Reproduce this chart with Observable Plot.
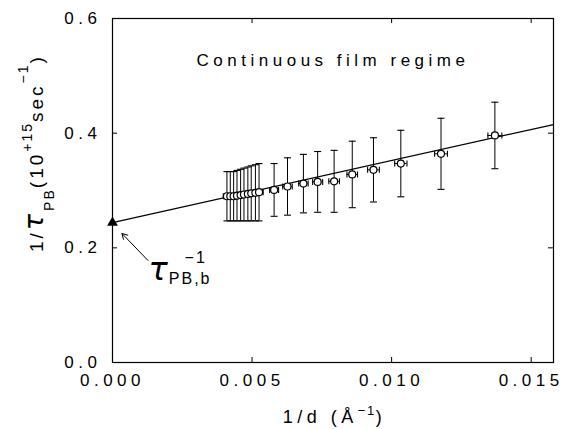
<!DOCTYPE html>
<html><head><meta charset="utf-8">
<script src="https://cdn.jsdelivr.net/npm/d3@7"></script>
<script src="https://cdn.jsdelivr.net/npm/@observablehq/plot@0.6"></script>
<style>body{margin:0;background:#fff}</style>
</head><body><div id="chart"></div>
<script>
// 1/d (Å^-1)
const invD = [0.00410, 0.00422, 0.00434, 0.00446, 0.00459, 0.00471, 0.00485, 0.00497, 0.00512, 0.00525,
              0.00579, 0.00627, 0.00684, 0.00735, 0.00794, 0.00859, 0.00935, 0.01033, 0.01177, 0.01370];
// 1/tau_PB (10^15 s^-1)
const invTau = [0.290, 0.290, 0.290, 0.291, 0.292, 0.293, 0.294, 0.295, 0.296, 0.297,
                0.301, 0.307, 0.312, 0.315, 0.316, 0.328, 0.336, 0.347, 0.364, 0.396];
const invTauErr = [0.043, 0.043, 0.043, 0.044, 0.045, 0.046, 0.047, 0.048, 0.049, 0.050,
                   0.046, 0.050, 0.051, 0.053, 0.054, 0.058, 0.056, 0.058, 0.062, 0.058];
const invDErr = [0.00013, 0.00013, 0.00013, 0.00013, 0.00013, 0.00014, 0.00014, 0.00014, 0.00014, 0.00015,
                 0.00016, 0.00017, 0.00017, 0.00018, 0.00019, 0.00019, 0.00021, 0.00022, 0.00023, 0.00025];
// linear fit
const fitX = [0, 0.0158];
const fitY = [0.244, 0.415];
// annotation arrow (tail -> head) and label anchor
const arrowFrom = [0.00127, 0.178];
const arrowTo = [0.00034, 0.225];
const labelAt = [0.00131, 0.143];
const xTicks = [0, 0.005, 0.010, 0.015];
const yTicks = [0, 0.2, 0.4, 0.6];
const titleText = "Continuous film regime";

const rows = invD.map((x, i) => ({x, y: invTau[i], ye: invTauErr[i], xe: invDErr[i]}));
const hCap = {draw(ctx, size) { const r = Math.sqrt(size / Math.PI); ctx.moveTo(-r, 0); ctx.lineTo(r, 0); }};
const vCap = {draw(ctx, size) { const r = Math.sqrt(size / Math.PI); ctx.moveTo(0, -r); ctx.lineTo(0, r); }};

const W = 567, H = 429, mL = 112, mR = 14, mT = 18, mB = 67;
const pw = W - mL - mR, ph = H - mT - mB, tick = 5;
const FONT = "'Liberation Sans', Arial, sans-serif";

const plot = Plot.plot({
  width: W, height: H, marginLeft: mL, marginRight: mR, marginTop: mT, marginBottom: mB,
  style: {fontFamily: FONT, fontSize: "17px", letterSpacing: "4.5px", color: "black", background: "white", overflow: "visible"},
  x: {domain: [0, 0.0158]},
  y: {domain: [0, 0.6]},
  marks: [
    Plot.frame({stroke: "black", strokeWidth: 1.2}),
    Plot.axisX(xTicks, {tickSize: 0, tickPadding: 11, label: null, fill: "black", tickFormat: d3.format(".3f")}),
    Plot.axisY(yTicks, {tickSize: 0, tickPadding: 11, label: null, fill: "black", tickFormat: d3.format(".1f")}),
    Plot.tickX(xTicks, {x: d => d, insetTop: ph - tick, stroke: "black"}),
    Plot.tickX(xTicks, {x: d => d, insetBottom: ph - tick, stroke: "black"}),
    Plot.tickY(yTicks, {y: d => d, insetRight: pw - tick, stroke: "black"}),
    Plot.tickY(yTicks, {y: d => d, insetLeft: pw - tick, stroke: "black"}),
    Plot.line(fitX.map((x, i) => ({x, y: fitY[i]})), {x: "x", y: "y", stroke: "black", strokeWidth: 1.2}),
    Plot.ruleX(rows, {x: "x", y1: d => d.y - d.ye, y2: d => d.y + d.ye, stroke: "black", strokeWidth: 1}),
    Plot.dot(rows, {x: "x", y: d => d.y - d.ye, symbol: hCap, r: 3.5, stroke: "black", strokeWidth: 1.1}),
    Plot.dot(rows, {x: "x", y: d => d.y + d.ye, symbol: hCap, r: 3.5, stroke: "black", strokeWidth: 1.1}),
    Plot.ruleY(rows, {y: "y", x1: d => d.x - d.xe, x2: d => d.x + d.xe, stroke: "black", strokeWidth: 1}),
    Plot.dot(rows, {x: d => d.x - d.xe, y: "y", symbol: vCap, r: 3, stroke: "black", strokeWidth: 1.1}),
    Plot.dot(rows, {x: d => d.x + d.xe, y: "y", symbol: vCap, r: 3, stroke: "black", strokeWidth: 1.1}),
    Plot.dot(rows, {x: "x", y: "y", r: 3.5, fill: "white", stroke: "black", strokeWidth: 1.2}),
    Plot.dot([{x: fitX[0], y: fitY[0]}], {x: "x", y: "y", symbol: "triangle", r: 4, fill: "black"}),
    Plot.arrow([{x1: arrowFrom[0], y1: arrowFrom[1], x2: arrowTo[0], y2: arrowTo[1]}],
      {x1: "x1", y1: "y1", x2: "x2", y2: "y2", stroke: "black", strokeWidth: 1, headLength: 9}),
    Plot.text([titleText], {frameAnchor: "top", dy: 42, lineAnchor: "middle", fontSize: 17, fill: "black"})
  ]
});

const svg = d3.select(plot);
const sx = plot.scale("x"), sy = plot.scale("y");

// x axis label
const xl = svg.append("text").attr("x", mL + pw / 2 + 2).attr("y", 423).attr("text-anchor", "middle")
  .style("font-size", "18px").attr("fill", "black");
xl.append("tspan").text("1/d (Å");
xl.append("tspan").text("−1").attr("dy", -8).style("font-size", "13px").style("letter-spacing", "1.5px");
xl.append("tspan").text(")").attr("dy", 8);

// y axis label (rotated)
const yl = svg.append("text").attr("transform", "translate(43,252) rotate(-90)").attr("text-anchor", "start")
  .style("font-size", "19px").style("letter-spacing", "3px").attr("fill", "black");
yl.append("tspan").text("1/");
yl.append("tspan").text("τ").style("font-style", "italic").style("font-size", "27px").style("font-family", "'DejaVu Sans'");
yl.append("tspan").text("PB").attr("dy", 11).style("font-size", "14px").style("letter-spacing", "2px");
yl.append("tspan").text("(10").attr("dy", -11);
yl.append("tspan").text("+15").attr("dy", -11).style("font-size", "14px").style("letter-spacing", "2px");
yl.append("tspan").text("sec").attr("dy", 11);
yl.append("tspan").text("−1").attr("dy", -15).style("font-size", "14px").style("letter-spacing", "2px");
yl.append("tspan").text(")").attr("dy", 15);

// tau_PB,b^-1 annotation
const lx = sx.apply(labelAt[0]), ly = sy.apply(labelAt[1]);
const tl = svg.append("text").attr("x", lx).attr("y", ly).attr("text-anchor", "start").attr("fill", "black").style("letter-spacing", "1px");
tl.append("tspan").text("τ").style("font-style", "italic").style("font-size", "32px").style("font-family", "'DejaVu Sans'");
tl.append("tspan").text("PB,b").attr("dy", 4).style("font-size", "16px").style("letter-spacing", "2px");
svg.append("text").attr("x", lx + 36).attr("y", ly - 17).attr("text-anchor", "start").attr("fill", "black")
  .style("font-size", "16px").style("letter-spacing", "2px").text("−1");

document.getElementById("chart").append(plot);
</script>
</body></html>
